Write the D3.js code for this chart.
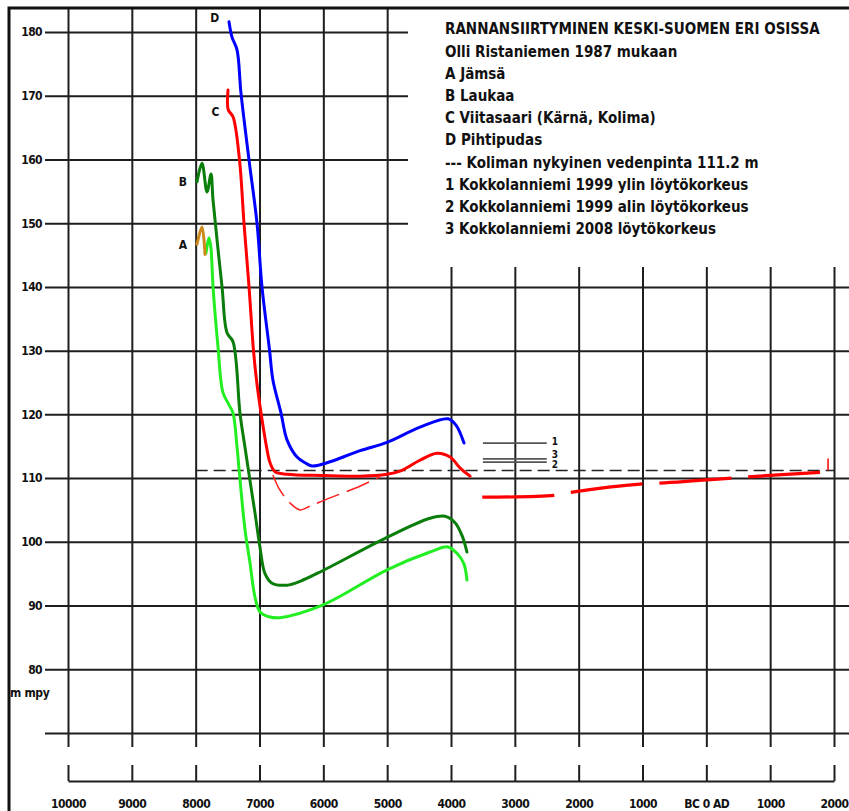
<!DOCTYPE html>
<html><head><meta charset="utf-8">
<script src="https://cdn.jsdelivr.net/npm/d3@7"></script>
<style>
html,body{margin:0;padding:0;background:#fff;}
svg{display:block;}
text{font-family:"DejaVu Sans Condensed","DejaVu Sans",sans-serif;font-weight:bold;fill:#111;}
</style></head>
<body>
<svg id="c" width="849" height="811"></svg>
<script>
// ---- data (years: negative = BC, positive = AD; values: m above sea level) ----
const yTicks = [70, 80, 90, 100, 110, 120, 130, 140, 150, 160, 170, 180];
const xTicks = [-10000, -9000, -8000, -7000, -6000, -5000, -4000, -3000, -2000, -1000, 0, 1000, 2000];
const xTickLabels = ["10000","9000","8000","7000","6000","5000","4000","3000","2000","1000","BC 0 AD","1000","2000"];

const seriesA = [[-7979,146.7],[-7901,149.4],[-7854,145.1]];
const seriesAlight = [[-7838,145.3],[-7791,147.7],[-7760,146.0],[-7728,140.0],[-7650,130.6],[-7572,123.4],[-7478,121.5],[-7415,120.2],[-7352,114.9],[-7305,109.7],[-7227,101.9],[-7149,96.7],[-7070,91.3],[-6992,89.0],[-6835,88.2],[-6679,88.1],[-6005,90.1],[-5002,95.6],[-4329,98.4],[-4047,99.2],[-3890,98.0],[-3796,96.5],[-3750,94.0]];
const seriesB = [[-7979,156.5],[-7901,159.4],[-7822,154.9],[-7760,157.7],[-7728,153.6],[-7587,140.0],[-7509,132.8],[-7415,131.4],[-7305,120.1],[-7227,114.8],[-7149,109.6],[-7070,104.5],[-6992,99.1],[-6914,95.0],[-6804,93.5],[-6569,93.2],[-6365,93.8],[-6005,95.5],[-5002,100.7],[-4329,103.7],[-4094,104.0],[-3937,103.0],[-3828,101.0],[-3750,98.4]];
const seriesC = [[-7493,170.9],[-7490,167.8],[-7415,166.7],[-7313,159.9],[-7243,150.0],[-7164,140.0],[-7094,130.0],[-7047,125.4],[-6976,120.2],[-6890,114.9],[-6835,112.4],[-6757,111.0],[-6569,110.6],[-6000,110.4],[-5425,110.3],[-5002,110.6],[-4799,111.1],[-4485,112.8],[-4219,113.9],[-4015,113.3],[-3859,111.6],[-3702,110.3]];
const seriesCalt = [[-6790,110.5],[-6679,108.1],[-6522,106.1],[-6365,105.0],[-6209,105.6],[-5895,106.9],[-5504,108.4],[-5112,110.2]];
const seriesCrecent = [[-3510,107.0],[-2370,107.3],[-2100,107.8],[-1000,109.1],[-741,109.2],[402,110.0],[653,110.2],[1781,110.9]];
const seriesCtick = [[1907,111.3],[1907,113.0]];
const seriesD = [[-7478,181.6],[-7431,179.2],[-7352,177.2],[-7290,170.4],[-7164,159.9],[-7039,150.0],[-6961,140.0],[-6843,130.1],[-6790,125.4],[-6663,120.2],[-6569,116.0],[-6412,113.3],[-6287,112.4],[-6177,111.9],[-5942,112.4],[-5425,114.3],[-5002,115.6],[-4485,118.0],[-4047,119.3],[-3922,118.3],[-3796,115.5]];
const waterLevel = 111.2;
const waterSpan = [-8000, 2000];
const findLevels = [{id:"1", v:115.5}, {id:"3", v:113.0}, {id:"2", v:112.5}];
const findSpan = [-3500, -2500];
const curveLabels = [{t:"D", x:-7700, v:182.2}, {t:"C", x:-7690, v:167.5}, {t:"B", x:-8200, v:156.5}, {t:"A", x:-8200, v:146.6}];
const legendLines = ["RANNANSIIRTYMINEN KESKI-SUOMEN ERI OSISSA","Olli Ristaniemen 1987 mukaan","A Jämsä","B Laukaa","C Viitasaari (Kärnä, Kolima)","D Pihtipudas","--- Koliman nykyinen vedenpinta 111.2 m","1 Kokkolanniemi 1999 ylin löytökorkeus","2 Kokkolanniemi 1999 alin löytökorkeus","3 Kokkolanniemi 2008 löytökorkeus"];

// ---- drawing ----
const svg = d3.select("#c");
const x = d3.scaleLinear().domain([-10000, 2000]).range([68, 834]);
const y = d3.scaleLinear().domain([70, 180]).range([733, 32]);
const gridColor = "#1e1e1e";

// vertical grid
const vg = svg.append("g").attr("transform","translate(0,747)")
  .call(d3.axisTop(x).tickValues(xTicks).tickSize(739).tickFormat(""));
vg.select(".domain").remove();
vg.selectAll(".tick line").attr("stroke",gridColor).attr("stroke-width",2);

// horizontal grid + labels
const hg = svg.append("g").attr("transform","translate(45,0)")
  .call(d3.axisLeft(y).tickValues(yTicks).tickSize(-(849-45)).tickPadding(3)
    .tickFormat(d => d === 70 ? "" : d));
hg.select(".domain").remove();
hg.selectAll(".tick line").attr("stroke",gridColor).attr("stroke-width",2);
hg.selectAll(".tick text").attr("font-size",12).attr("font-family","DejaVu Sans Condensed").attr("font-weight","bold").attr("fill","#111").attr("letter-spacing","-0.6");

// legend white box
svg.append("rect").attr("x",408).attr("y",9).attr("width",441).attr("height",258).attr("fill","#fff");

// frame
svg.append("path").attr("d","M9,811V8H849").attr("fill","none").attr("stroke","#111").attr("stroke-width",3);

// bottom time axis
const bx = svg.append("g").attr("transform","translate(0,781)")
  .call(d3.axisBottom(x).tickValues(xTicks).tickSize(-16).tickSizeOuter(0).tickPadding(18)
    .tickFormat((d,i) => xTickLabels[i]));
bx.select(".domain").attr("stroke",gridColor).attr("stroke-width",2);
bx.selectAll(".tick line").attr("stroke",gridColor).attr("stroke-width",2);
bx.selectAll(".tick text").attr("font-size",12).attr("font-family","DejaVu Sans Condensed").attr("font-weight","bold").attr("fill","#111").attr("letter-spacing","-0.5");

svg.append("text").attr("x",10).attr("y",697).attr("font-size",12).attr("letter-spacing","-0.3").text("m mpy");

// water level dashed
svg.append("line").attr("x1",x(waterSpan[0])).attr("x2",x(waterSpan[1]))
  .attr("y1",y(waterLevel)).attr("y2",y(waterLevel))
  .attr("stroke","#222").attr("stroke-width",1.6).attr("stroke-dasharray","12,6");

// find levels
svg.selectAll(".find").data(findLevels).enter().append("line")
  .attr("x1",x(findSpan[0])).attr("x2",x(findSpan[1]))
  .attr("y1",d=>y(d.v)).attr("y2",d=>y(d.v))
  .attr("stroke","#555").attr("stroke-width",1.8);
svg.selectAll(".findt").data(findLevels).enter().append("text")
  .attr("x",x(findSpan[1])+5).attr("y",(d,i)=>[445,458,468][i])
  .attr("font-size",10).text(d=>d.id);

const line = d3.line().x(d=>x(d[0])).y(d=>y(d[1])).curve(d3.curveCatmullRom.alpha(0.5));
const straight = d3.line().x(d=>x(d[0])).y(d=>y(d[1]));

function draw(data, color, w, dash, gen){
  const p = svg.append("path").attr("d",(gen||line)(data)).attr("fill","none")
    .attr("stroke",color).attr("stroke-width",w).attr("stroke-linecap","round").attr("stroke-linejoin","round");
  if (dash) p.attr("stroke-dasharray",dash).attr("stroke-linecap","butt");
  return p;
}
draw(seriesCalt, "#ff2020", 1.5, "24,8");
draw(seriesCrecent, "#ff0000", 3.2, "72,17");
draw(seriesCtick, "#ff0000", 1.5, null, straight);
draw(seriesAlight, "#22ee22", 3);
draw(seriesB, "#0a7d0a", 3);
draw(seriesA, "#cc8a1a", 3);
draw(seriesC, "#ff0000", 3);
draw(seriesD, "#0000ff", 3);

svg.selectAll(".cl").data(curveLabels).enter().append("text")
  .attr("x",d=>x(d.x)).attr("y",d=>y(d.v)).attr("dy","0.35em").attr("text-anchor","middle")
  .attr("font-size",12).text(d=>d.t);

// legend
svg.selectAll(".lg").data(legendLines).enter().append("text")
  .attr("x",445).attr("y",(d,i)=>29 + i*22.2).attr("dy","0.36em")
  .attr("font-size",15).text(d=>d);
</script>
</body></html>
